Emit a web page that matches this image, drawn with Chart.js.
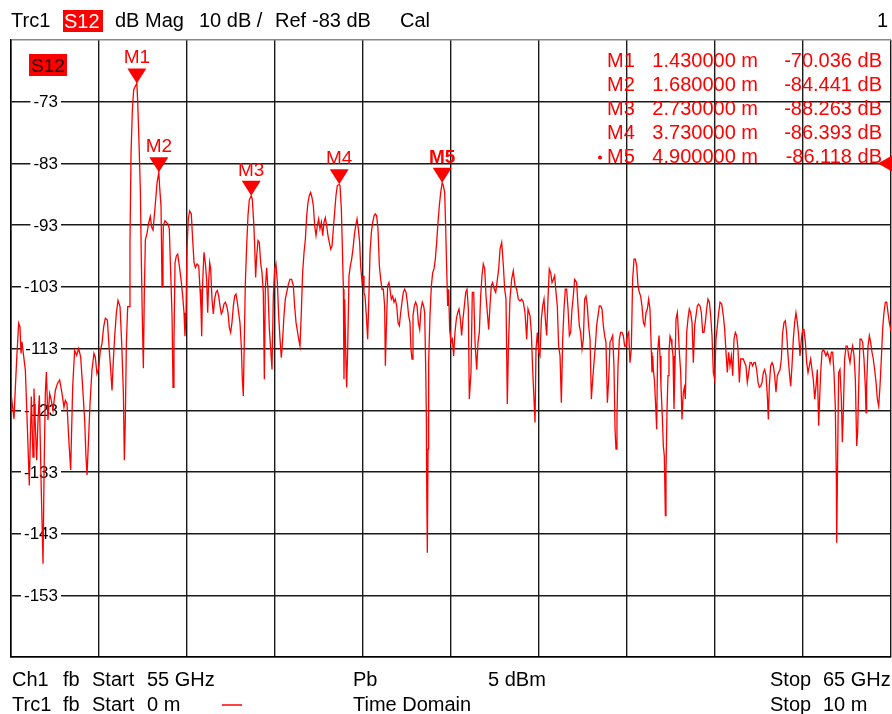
<!DOCTYPE html>
<html><head><meta charset="utf-8">
<script src="https://cdn.jsdelivr.net/npm/chart.js@4.4.1/dist/chart.umd.min.js"></script>
<style>html,body{margin:0;padding:0;background:#fff;}canvas{display:block;}</style>
</head><body>
<canvas id="c" width="892" height="714"></canvas>
<script>
const distA = [0.000,0.034,0.049,0.064,0.087,0.102,0.114,0.125,0.140,0.163,
0.186,0.208,0.231,0.250,0.261,0.277,0.292,0.307,0.322,0.345,
0.364,0.375,0.390,0.402,0.420,0.439,0.458,0.477,0.504,0.527,
0.553,0.580,0.602,0.617,0.636,0.655,0.678,0.701,0.723,0.746,
0.769,0.792,0.814,0.837,0.852,0.864,0.879,0.898,0.920,0.943,
0.958,0.977,0.996,1.015,1.034,1.053,1.072,1.095,1.114,1.133,
1.148,1.163,1.178,1.197,1.216,1.239,1.258,1.277,1.288,1.299,
1.311,1.326,1.341,1.352,1.364,1.379,1.394,1.409,1.430,1.439,
1.455,1.470,1.481,1.492,1.504,1.515,1.527,1.545,1.564,1.583,
1.598,1.614,1.629,1.644,1.659,1.680,1.689,1.705,1.716,1.727];
const dbA = [-120.3,-124.4,-119.5,-114.9,-108.9,-109.5,-113.8,-111.9,-113.8,-116.5,
-125.7,-135.2,-120.8,-130.6,-119.5,-125.7,-131.1,-124.6,-120.6,-136.5,
-147.9,-133.8,-120.3,-116.8,-124.6,-120.3,-121.4,-123.0,-119.8,-118.7,
-118.1,-120.3,-122.5,-121.4,-121.9,-127.3,-132.7,-119.2,-113.3,-114.1,
-113.0,-114.4,-119.2,-124.6,-130.6,-133.5,-128.4,-121.9,-116.5,-113.8,
-114.4,-117.1,-116.2,-113.3,-112.2,-109.5,-108.1,-108.4,-112.7,-116.5,
-119.8,-114.9,-111.1,-107.3,-105.2,-106.2,-112.2,-120.3,-131.1,-124.6,
-112.2,-106.2,-106.2,-96.0,-81.4,-74.4,-71.1,-70.6,-70.04,-72.7,
-79.8,-87.3,-98.7,-107.9,-116.2,-104.1,-95.4,-94.4,-92.7,-91.6,
-93.3,-93.8,-91.4,-88.9,-86.2,-84.44,-86.8,-90.0,-103.0,-96.5];

const distB = [1.731,1.750,1.769,1.784,1.799,1.818,1.830,1.841,1.852,1.864,
1.879,1.894,1.913,1.932,1.951,1.966,1.977,1.989,2.000,2.015,
2.030,2.049,2.064,2.080,2.095,2.114,2.133,2.148,2.159,2.167,
2.178,2.193,2.208,2.223,2.235,2.246,2.258,2.269,2.284,2.299,
2.314,2.330,2.345,2.360,2.375,2.390,2.405,2.420,2.436,2.451,
2.466,2.481,2.496,2.511,2.527,2.542,2.557,2.572,2.587,2.602,
2.617,2.629,2.640,2.652,2.663,2.678,2.693,2.708,2.730,2.742,
2.758,2.769,2.780,2.792,2.807,2.822,2.837,2.852,2.867,2.879,
2.890,2.905,2.920,2.936,2.951,2.966,2.981,2.996,3.011,3.027,
3.042,3.057,3.072,3.087,3.102,3.117,3.133,3.152,3.170,3.189,
3.208,3.223,3.239,3.254,3.269,3.284,3.299,3.314,3.330,3.345,
3.360,3.375,3.390];
const dbB = [-93.1,-92.3,-92.6,-92.8,-93.6,-102.3,-107.7,-119.3,-112.0,-99.1,
-98.0,-97.7,-99.6,-101.8,-104.5,-107.2,-111.0,-107.2,-96.9,-92.0,
-90.7,-91.2,-95.3,-99.1,-99.9,-99.3,-99.6,-103.4,-106.6,-111.0,
-102.3,-97.4,-99.1,-101.8,-107.2,-102.3,-99.1,-100.1,-105.0,-107.4,
-105.0,-103.9,-103.6,-104.5,-106.1,-107.4,-106.9,-105.8,-105.5,-106.1,
-107.2,-109.6,-110.4,-108.8,-106.1,-104.5,-104.2,-105.5,-107.2,-108.8,
-112.6,-118.0,-120.7,-111.0,-102.3,-96.4,-91.5,-88.9,-88.26,-88.8,
-92.6,-96.4,-101.5,-98.0,-95.5,-95.8,-99.1,-100.7,-103.9,-118.0,
-103.4,-99.9,-103.4,-109.9,-113.1,-116.4,-104.5,-100.1,-99.3,-102.3,
-107.7,-111.5,-114.5,-111.5,-107.7,-105.0,-103.9,-102.6,-101.8,-101.8,
-102.8,-106.1,-108.8,-110.1,-111.5,-112.6,-107.2,-100.7,-97.4,-95.3,
-91.5,-89.3,-88.2];

const distC = [3.405,3.420,3.436,3.451,3.466,3.481,3.496,3.511,3.527,3.542,
3.557,3.572,3.587,3.602,3.617,3.633,3.648,3.663,3.678,3.693,
3.708,3.730,3.739,3.754,3.765,3.777,3.784,3.792,3.803,3.814,
3.826,3.841,3.856,3.871,3.886,3.901,3.917,3.932,3.947,3.962,
3.973,3.989,4.000,4.011,4.023,4.038,4.053,4.064,4.080,4.095,
4.110,4.125,4.140,4.155,4.170,4.186,4.201,4.216,4.231,4.246,
4.254,4.265,4.280,4.295,4.307,4.322,4.337,4.352,4.367,4.383,
4.398,4.413,4.428,4.443,4.458,4.473,4.489,4.504,4.519,4.534,
4.545,4.557,4.568,4.583,4.598,4.614,4.629,4.644,4.659,4.674,
4.689,4.701,4.712,4.720,4.723,4.731,4.739,4.746,4.761,4.777,
4.792,4.807,4.822,4.837,4.852,4.867,4.883,4.900,4.913,4.928,
4.939,4.951,4.962,4.973,4.985,5.000,5.015,5.030,5.045,5.061,
5.076,5.091,5.106,5.121,5.136,5.152,5.167,5.182,5.197,5.208];
const dbC = [-87.7,-88.5,-89.9,-93.1,-94.7,-93.1,-92.0,-93.6,-92.5,-94.7,
-92.5,-91.8,-93.1,-94.7,-95.8,-96.9,-96.4,-93.6,-90.9,-88.2,
-86.6,-86.39,-86.6,-90.4,-96.4,-103.4,-118.0,-105.0,-113.1,-119.3,
-113.1,-101.2,-99.6,-98.5,-96.9,-94.7,-93.1,-92.0,-93.6,-95.8,
-99.6,-102.3,-101.2,-103.9,-104.5,-107.7,-111.5,-106.1,-97.4,-94.2,
-92.6,-91.5,-91.2,-91.5,-93.6,-99.6,-101.8,-103.4,-103.4,-106.1,
-115.8,-109.9,-102.8,-102.3,-103.4,-105.0,-104.5,-105.5,-105.0,-106.1,
-108.8,-109.3,-107.2,-105.5,-103.9,-103.4,-103.9,-105.5,-107.7,-108.8,
-113.1,-114.7,-107.7,-106.1,-105.5,-106.1,-108.8,-109.9,-106.6,-105.5,
-106.1,-107.2,-115.8,-124.0,-133.6,-146.1,-129.3,-115.3,-107.7,-102.8,
-100.7,-100.1,-98.5,-95.8,-92.6,-89.9,-87.7,-86.12,-86.6,-87.7,
-93.1,-100.1,-106.1,-103.4,-109.9,-112.0,-111.5,-114.2,-110.4,-108.2,
-107.2,-106.6,-108.2,-110.9,-108.2,-106.1,-103.9,-103.4,-106.6,-121.2];

const distD = [5.227,5.242,5.258,5.273,5.292,5.307,5.322,5.337,5.352,5.367,
5.383,5.398,5.413,5.428,5.443,5.458,5.473,5.492,5.508,5.527,
5.542,5.557,5.576,5.595,5.610,5.625,5.640,5.652,5.670,5.689,
5.708,5.727,5.746,5.765,5.784,5.803,5.822,5.841,5.860,5.875,
5.898,5.913,5.928,5.943,5.955,5.966,5.981,5.996,6.011,6.027,
6.042,6.057,6.072,6.087,6.102,6.117,6.133,6.148,6.163,6.178,
6.193,6.208,6.223,6.239,6.254,6.269,6.284,6.299,6.314,6.330,
6.345,6.360,6.375,6.390,6.405,6.428,6.443,6.458,6.473,6.489,
6.504,6.519,6.534,6.549,6.564,6.580,6.595,6.610,6.625,6.640,
6.655,6.670,6.686,6.701,6.716,6.731,6.746,6.761,6.777,6.792,
6.807,6.822,6.837,6.852,6.864,6.875,6.886,6.898,6.913,6.928,
6.943,6.958,6.973,6.989,7.004,7.019,7.034,7.049,7.064,7.080,
7.095,7.110,7.125,7.140,7.155,7.170,7.186,7.201,7.216,7.231,
7.246,7.261,7.277,7.284,7.292,7.299,7.311,7.326,7.337,7.348,
7.364,7.375,7.386,7.401,7.413,7.424,7.436,7.443,7.455,7.466,
7.477,7.489,7.500,7.511,7.523,7.534];
const dbD = [-116.9,-103.9,-103.9,-112.0,-116.4,-112.0,-110.4,-104.5,-101.2,-99.3,
-100.1,-104.5,-107.2,-109.9,-106.1,-102.8,-102.3,-103.4,-103.9,-101.8,
-100.1,-96.9,-95.8,-99.6,-103.4,-105.0,-122.0,-113.1,-105.0,-101.8,
-100.4,-102.8,-103.4,-105.0,-105.3,-105.0,-105.5,-107.2,-111.5,-106.6,
-107.7,-110.4,-116.4,-121.2,-125.0,-113.1,-110.4,-113.6,-114.2,-108.2,
-106.1,-105.0,-108.2,-110.9,-105.0,-100.1,-100.7,-102.3,-101.8,-101.2,
-103.9,-106.1,-112.6,-114.2,-121.8,-111.5,-106.6,-103.4,-103.4,-106.6,
-110.9,-110.4,-106.6,-104.5,-101.8,-102.3,-106.1,-109.3,-110.4,-113.1,
-111.5,-105.0,-104.5,-106.1,-109.3,-111.5,-121.2,-118.0,-115.3,-112.6,
-109.3,-107.7,-106.1,-106.1,-106.6,-109.3,-110.9,-112.0,-121.8,-118.0,
-112.0,-111.5,-110.9,-115.8,-126.1,-129.3,-123.9,-115.8,-111.5,-110.4,
-110.4,-110.9,-112.6,-112.6,-110.9,-110.4,-115.3,-113.1,-101.8,-98.5,
-98.5,-99.6,-102.8,-103.9,-104.5,-106.1,-108.8,-109.3,-107.2,-106.6,
-105.0,-106.6,-113.6,-116.9,-114.2,-116.4,-118.0,-122.3,-126.1,-113.6,
-110.9,-114.2,-119.1,-123.9,-128.8,-130.4,-140.1,-133.1,-122.8,-117.4,
-113.6,-111.0,-111.5,-112.6,-114.2,-122.8];

const distE = [7.542,7.557,7.572,7.583,7.595,7.610,7.625,7.640,7.652,7.663,
7.678,7.693,7.708,7.723,7.739,7.754,7.769,7.784,7.799,7.814,
7.830,7.845,7.860,7.875,7.890,7.905,7.920,7.936,7.951,7.966,
7.981,7.996,8.011,8.027,8.042,8.057,8.076,8.095,8.110,8.125,
8.140,8.155,8.170,8.186,8.201,8.216,8.231,8.246,8.261,8.277,
8.292,8.307,8.322,8.337,8.352,8.367,8.383,8.398,8.413,8.428,
8.443,8.458,8.473,8.489,8.504,8.519,8.534,8.549,8.564,8.580,
8.595,8.606,8.617,8.633,8.648,8.663,8.678,8.693,8.708,8.723,
8.739,8.754,8.769,8.784,8.799,8.814,8.830,8.845,8.860,8.875,
8.890,8.905,8.920,8.936,8.951,8.966,8.981,8.996,9.011,9.027,
9.042,9.057,9.072,9.087,9.102,9.117,9.133,9.148,9.163,9.178,
9.189,9.201,9.216,9.231,9.246,9.261,9.277,9.292,9.307,9.322,
9.337,9.352,9.367,9.379,9.383,9.390,9.405,9.420,9.436,9.447,
9.458,9.473,9.489,9.504,9.519,9.534,9.549,9.564,9.580,9.595,
9.610,9.621,9.633,9.648,9.663,9.678,9.693,9.708,9.716,9.723,
9.739,9.754,9.769,9.784,9.799,9.814,9.830,9.845,9.860,9.875,
9.890,9.905,9.920,9.936,9.951,9.966,9.981,9.996,10.000];
const dbE = [-118.0,-108.2,-107.2,-110.1,-113.6,-116.9,-124.5,-120.1,-119.3,-121.2,
-110.4,-108.2,-106.6,-107.2,-108.8,-115.3,-109.3,-107.7,-106.1,-105.8,
-106.1,-107.2,-110.4,-110.4,-108.8,-106.6,-105.0,-105.5,-107.7,-110.9,
-116.9,-118.0,-111.5,-109.3,-107.2,-105.5,-105.8,-107.7,-109.9,-113.6,
-116.9,-113.6,-115.8,-114.2,-117.4,-111.5,-110.4,-110.9,-113.1,-118.5,
-114.7,-114.7,-114.7,-115.3,-115.8,-118.5,-116.9,-115.3,-115.3,-115.8,
-115.3,-115.3,-116.4,-118.5,-119.3,-119.1,-118.5,-116.9,-116.4,-117.4,
-120.7,-124.5,-119.1,-115.8,-115.3,-115.8,-117.4,-120.1,-117.4,-116.9,
-116.4,-114.7,-110.4,-108.8,-108.5,-110.4,-114.2,-116.9,-119.1,-115.8,
-111.5,-108.8,-107.2,-108.8,-110.9,-114.2,-111.5,-109.9,-109.9,-112.0,
-115.3,-116.9,-115.8,-114.7,-116.4,-118.0,-121.2,-119.1,-116.4,-125.5,
-121.2,-116.9,-113.6,-113.1,-113.6,-114.2,-113.6,-114.2,-115.3,-113.6,
-113.6,-116.9,-122.3,-134.2,-144.5,-135.3,-116.9,-116.4,-121.2,-128.2,
-123.4,-114.7,-112.6,-112.6,-114.2,-115.3,-113.6,-112.6,-114.2,-118.0,
-128.8,-126.6,-119.1,-111.5,-111.5,-112.0,-114.7,-119.1,-123.4,-119.1,
-112.6,-110.9,-112.0,-113.6,-114.7,-116.4,-118.5,-121.2,-122.3,-119.1,
-114.7,-109.9,-107.2,-105.5,-105.5,-107.2,-108.8,-109.9,-110.2];

// ---- markers ----
const markerNames = ['M1','M2','M3','M4','M5'];
const markerDistance = [1.43, 1.68, 2.73, 3.73, 4.90];
const markerValue = [-70.036, -84.441, -88.263, -86.393, -86.118];
const activeMarker = 4;

// ---- axes ----
const yTickLabels = [-73,-83,-93,-103,-113,-123,-133,-143,-153];
const yMin = -163, yMax = -63, yStep = 10;
const xMin = 0, xMax = 10, xStep = 1;
const refLevel = -83;

const distanceM = [].concat(distA, distB, distC, distD, distE);
const s12dB = [].concat(dbA, dbB, dbC, dbD, dbE);
if (distanceM.length !== s12dB.length) throw new Error('length mismatch ' + distanceM.length + ' vs ' + s12dB.length);
const points = distanceM.map((d, i) => ({x: d, y: s12dB[i]}));

const FONT = '"Liberation Sans", Arial, Helvetica, sans-serif';
const RED = '#ff0000';

const vna = {
  id: 'vna',
  beforeDatasetsDraw(chart) {
    const {ctx, scales: {x, y}} = chart;
    ctx.save();
    ctx.font = '17px ' + FONT;
    ctx.textAlign = 'right';
    ctx.textBaseline = 'middle';
    const right = 58;
    yTickLabels.forEach(v => {
      const py = y.getPixelForValue(v);
      const t = String(v);
      const w = ctx.measureText(t).width;
      ctx.fillStyle = '#fff';
      ctx.fillRect(right - w - 3, py - 3, w + 6, 6);
      ctx.fillStyle = '#000';
      ctx.fillText(t, right, py + 1);
    });
    // trace label box
    ctx.fillStyle = RED;
    ctx.fillRect(29, 54, 38, 22);
    ctx.fillStyle = '#1a0000';
    ctx.font = '19px ' + FONT;
    ctx.textAlign = 'center';
    ctx.textBaseline = 'alphabetic';
    ctx.fillText('S12', 48, 72);
    ctx.restore();
  },
  afterDatasetsDraw(chart) {
    const {ctx, scales: {x, y}} = chart;
    ctx.save();
    // marker triangles + labels
    markerNames.forEach((n, i) => {
      const px = x.getPixelForValue(markerDistance[i]);
      const py = y.getPixelForValue(markerValue[i]);
      ctx.fillStyle = RED;
      ctx.beginPath();
      ctx.moveTo(px, py);
      ctx.lineTo(px - 9.5, py - 15);
      ctx.lineTo(px + 9.5, py - 15);
      ctx.closePath();
      ctx.fill();
      ctx.font = (i === activeMarker ? 'bold ' : '') + '19px ' + FONT;
      ctx.textAlign = 'center';
      ctx.textBaseline = 'alphabetic';
      ctx.fillText(n, px, py - 20);
    });
    // marker table
    ctx.font = '20px ' + FONT;
    ctx.fillStyle = RED;
    markerNames.forEach((n, i) => {
      const by = 67 + i * 24.1;
      ctx.textAlign = 'left';
      ctx.fillText(n, 607, by);
      ctx.textAlign = 'right';
      ctx.fillText(markerDistance[i].toFixed(6) + ' m', 758, by);
      ctx.fillText(markerValue[i].toFixed(3) + ' dB', 882, by);
      if (i === activeMarker) {
        ctx.beginPath();
        ctx.arc(600, by - 6, 2, 0, Math.PI * 2);
        ctx.fill();
      }
    });
    // reference level arrow at right edge
    const ry = y.getPixelForValue(refLevel);
    ctx.beginPath();
    ctx.moveTo(878, ry);
    ctx.lineTo(892, ry - 8);
    ctx.lineTo(892, ry + 8);
    ctx.closePath();
    ctx.fill();
    ctx.restore();
  },
  afterDraw(chart) {
    const ctx = chart.ctx;
    ctx.save();
    ctx.font = '20px ' + FONT;
    ctx.textBaseline = 'alphabetic';
    ctx.textAlign = 'left';
    ctx.fillStyle = '#000';
    // header
    ctx.fillText('Trc1', 11, 27);
    ctx.fillStyle = RED;
    ctx.fillRect(63, 10, 40, 22);
    ctx.fillStyle = '#fff';
    ctx.fillText('S12', 64, 28);
    ctx.fillStyle = '#000';
    ctx.fillText('dB Mag', 115, 27);
    ctx.fillText(yStep + ' dB /', 199, 27);
    ctx.fillText('Ref', 275, 27);
    ctx.fillText(refLevel + ' dB', 312, 27);
    ctx.fillText('Cal', 400, 27);
    ctx.textAlign = 'right';
    ctx.fillText('1', 888, 27);
    // footer
    ctx.textAlign = 'left';
    const r1 = 686, r2 = 711;
    ctx.fillText('Ch1', 12, r1);
    ctx.fillText('fb', 63, r1);
    ctx.fillText('Start', 92, r1);
    ctx.fillText('55 GHz', 147, r1);
    ctx.fillText('Pb', 353, r1);
    ctx.fillText('5 dBm', 488, r1);
    ctx.fillText('Stop', 770, r1);
    ctx.fillText('65 GHz', 823, r1);
    ctx.fillText('Trc1', 12, r2);
    ctx.fillText('fb', 63, r2);
    ctx.fillText('Start', 92, r2);
    ctx.fillText(xMin + ' m', 147, r2);
    ctx.fillText('Time Domain', 353, r2);
    ctx.fillText('Stop', 770, r2);
    ctx.fillText(xMax + ' m', 823, r2);
    ctx.strokeStyle = RED;
    ctx.lineWidth = 1.5;
    ctx.beginPath();
    ctx.moveTo(222, 705);
    ctx.lineTo(242, 705);
    ctx.stroke();
    ctx.restore();
  }
};

new Chart(document.getElementById('c').getContext('2d'), {
  type: 'line',
  data: {datasets: [{
    data: points,
    borderColor: RED,
    borderWidth: 1.3,
    pointRadius: 0,
    tension: 0,
    fill: false
  }]},
  options: {
    responsive: false,
    animation: false,
    devicePixelRatio: 1,
    layout: {padding: {left: 11, top: 40, right: 1, bottom: 57}},
    plugins: {legend: {display: false}, tooltip: {enabled: false}},
    scales: {
      x: {
        type: 'linear', min: xMin, max: xMax,
        ticks: {display: false, stepSize: xStep},
        grid: {color: '#1a1a1a', lineWidth: 1.4, drawTicks: false, tickLength: 0},
        border: {display: true, color: '#000', width: 1.5}
      },
      y: {
        type: 'linear', min: yMin, max: yMax,
        ticks: {display: false, stepSize: yStep},
        grid: {
          color: c => (c.tick && c.tick.value === yMax) ? '#888' : '#1a1a1a',
          lineWidth: 1.4, drawTicks: false, tickLength: 0
        },
        border: {display: true, color: '#000', width: 1.5}
      }
    }
  },
  plugins: [vna]
});
</script>
</body></html>
